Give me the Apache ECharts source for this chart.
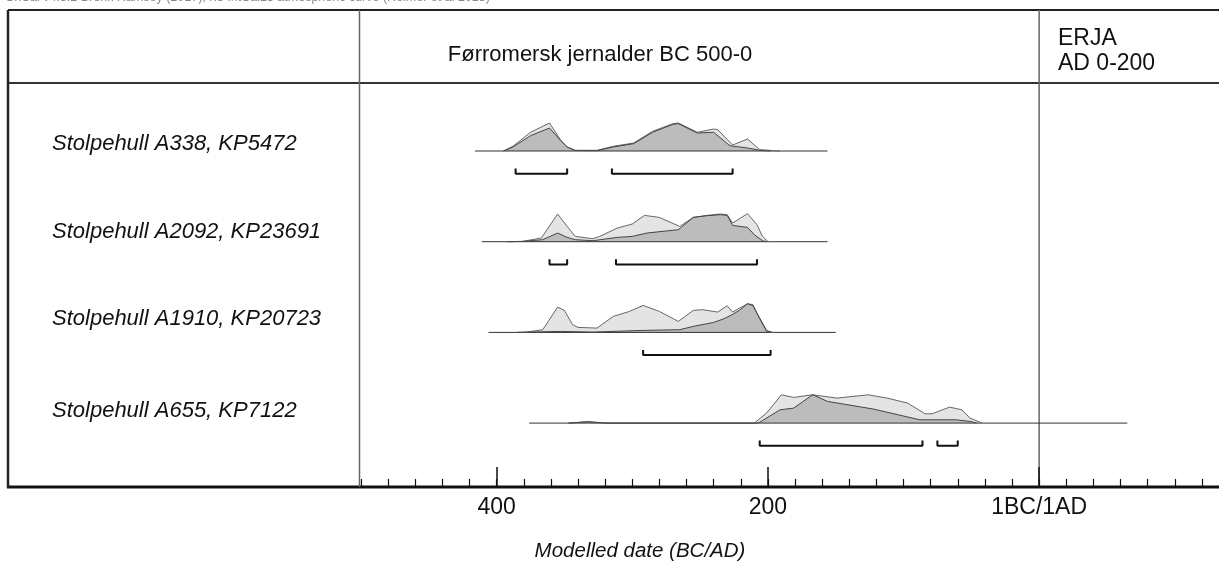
<!DOCTYPE html>
<html>
<head>
<meta charset="utf-8">
<script src="https://cdn.jsdelivr.net/npm/echarts@6/dist/echarts.min.js"></script>
<style>
  html, body { margin: 0; padding: 0; background: #fff; }
  #chart { width: 1219px; height: 565px; }
</style>
</head>
<body>
<div id="chart"></div>
<script>
// Calendar years, BC negative. Densities are relative heights.
const SAMPLES = [
  'Stolpehull A338, KP5472',
  'Stolpehull A2092, KP23691',
  'Stolpehull A1910, KP20723',
  'Stolpehull A655, KP7122',
];

const SPAN_A338 = [-416, -156];
const LIKELIHOOD_A338 = [[-395, 0], [-388, 4.7], [-375, 18.7], [-361, 28], [-353, 11.3], [-348, 4], [-342, 0.7], [-326, 0.7], [-314, 4.7], [-299, 8], [-285, 19.7], [-270, 27.3], [-266, 28], [-252, 18.7], [-240, 22], [-237, 21.3], [-226, 6], [-215, 12], [-206, 1.3], [-191, 0]];
const POSTERIOR_A338 = [[-395, 0], [-388, 4], [-375, 15.3], [-361, 23], [-353, 10.7], [-348, 4], [-342, 0.5], [-326, 0.3], [-314, 4], [-299, 7.3], [-285, 18.7], [-270, 26.7], [-266, 27.3], [-252, 18], [-240, 18.7], [-228, 5.3], [-215, 3], [-206, 0.7], [-198, 0]];
const RANGES_A338 = [[-386, -348], [-315, -226]];

const SPAN_A2092 = [-411, -156];
const LIKELIHOOD_A2092 = [[-392, 0], [-381, 0.3], [-367, 3.7], [-355, 27.7], [-348, 15.3], [-342, 5.3], [-329, 3], [-324, 5.3], [-311, 13.7], [-300, 17.7], [-291, 26.3], [-280, 24.3], [-265, 15.3], [-255, 24.3], [-245, 26.3], [-235, 27.7], [-230, 27], [-226, 18.7], [-215, 28], [-208, 17], [-204, 5.3], [-200, 0.3], [-196, 0]];
const POSTERIOR_A2092 = [[-392, 0], [-381, 0.3], [-366, 2], [-355, 8.7], [-348, 4.3], [-342, 2], [-329, 1], [-311, 4.3], [-300, 5.3], [-289, 8.7], [-266, 12], [-255, 24.3], [-245, 26], [-235, 27], [-230, 26.3], [-226, 16.3], [-215, 14.3], [-210, 7], [-204, 1], [-201, 0]];
const RANGES_A2092 = [[-361, -348], [-312, -208]];

const SPAN_A1910 = [-406, -150];
const LIKELIHOOD_A1910 = [[-385, 0], [-378, 0.3], [-366, 2.7], [-355, 25.3], [-350, 22], [-344, 7.7], [-340, 5], [-326, 4.3], [-314, 16], [-302, 21], [-292, 27], [-280, 21], [-266, 11], [-255, 22], [-248, 22.7], [-237, 20.3], [-230, 26.7], [-226, 20.3], [-215, 28.7], [-211, 27.7], [-207, 16], [-201, 1], [-196, 0]];
const POSTERIOR_A1910 = [[-385, 0], [-353, 1], [-329, 0.3], [-292, 2], [-265, 2.7], [-255, 6], [-240, 10], [-233, 13.3], [-226, 18], [-221, 22], [-215, 28.7], [-211, 26.7], [-206, 14.3], [-201, 2], [-197, 0]];
const RANGES_A1910 = [[-292, -198]];

const SPAN_A655 = [-376, 65];
const LIKELIHOOD_A655 = [[-347, 0], [-333, 1.5], [-319, 0], [-210, 0], [-201, 10], [-190, 28.3], [-181, 25.7], [-167, 28.3], [-149, 25], [-126, 28.3], [-112, 25], [-97, 20], [-84, 9.3], [-79, 9.3], [-66, 16], [-57, 13.3], [-51, 5], [-42, 0]];
const POSTERIOR_A655 = [[-347, 0], [-333, 1.3], [-319, 0], [-207, 0], [-191, 13.3], [-181, 15], [-167, 28.3], [-156, 21.7], [-122, 14], [-88, 3.3], [-61, 3.3], [-51, 1.7], [-46, 0]];
const RANGES_A655 = [[-206, -86], [-75, -60]];

const SPANS = [SPAN_A338, SPAN_A2092, SPAN_A1910, SPAN_A655];
const LIKELIHOODS = [LIKELIHOOD_A338, LIKELIHOOD_A2092, LIKELIHOOD_A1910, LIKELIHOOD_A655];
const POSTERIORS = [POSTERIOR_A338, POSTERIOR_A2092, POSTERIOR_A1910, POSTERIOR_A655];
const RANGES = [RANGES_A338, RANGES_A2092, RANGES_A1910, RANGES_A655];

const TICK_VALUES = [-400, -200, 0];
const TICK_LABELS = ['400', '200', '1BC/1AD'];
const X_MIN = -500;
const X_MAX = 140;

const FONT = "'Liberation Sans', Arial, sans-serif";
const LABEL_Y = [144, 232, 319, 411];

const chart = echarts.init(document.getElementById('chart'));

const plotLeft = 361;
const plotWidth = 868;
const bottomGrid = SAMPLES.length;

const gridBox = (top, height) => ({ left: plotLeft, width: plotWidth, top, height, outerBoundsMode: 'none', containLabel: false });
const grid = SAMPLES.map((_, i) => gridBox(119 + i * 90.7, 58));
grid.push(gridBox(400, 87));

const xAxis = SAMPLES.map((_, i) => ({ type: 'value', gridIndex: i, min: X_MIN, max: X_MAX, show: false }));
xAxis.push({
  type: 'value',
  gridIndex: bottomGrid,
  position: 'bottom',
  min: X_MIN,
  max: X_MAX,
  axisLine: { show: false },
  splitLine: { show: false },
  axisTick: { show: true, inside: true, length: 20, customValues: TICK_VALUES, lineStyle: { color: '#111', width: 1.5 } },
  axisLabel: {
    customValues: TICK_VALUES,
    formatter: (v) => TICK_LABELS[TICK_VALUES.indexOf(v)],
    fontSize: 23,
    fontFamily: FONT,
    color: '#111',
    margin: 9,
  },
});
// minor ticks every 20 years
xAxis.push({
  type: 'value',
  gridIndex: bottomGrid,
  position: 'bottom',
  offset: 0,
  min: X_MIN,
  max: X_MAX,
  interval: 20,
  axisLine: { show: false },
  splitLine: { show: false },
  axisLabel: { show: false },
  axisTick: { show: true, inside: true, length: 8, lineStyle: { color: '#111', width: 1.2 } },
});

const yAxis = SAMPLES.map((_, i) => ({ type: 'value', gridIndex: i, min: -26, max: 32, show: false }));
yAxis.push({ type: 'value', gridIndex: bottomGrid, show: false });

const series = [];
SAMPLES.forEach((name, i) => {
  const base = { type: 'line', xAxisIndex: i, yAxisIndex: i, symbol: 'none', silent: true, animation: false };
  series.push({ ...base, name: name + ' axis', data: SPANS[i].map((x) => [x, 0]), lineStyle: { color: '#333', width: 1 } });
  series.push({
    ...base,
    name: name + ' unmodelled',
    data: LIKELIHOODS[i],
    lineStyle: { color: '#666', width: 1 },
    areaStyle: { color: '#e4e4e4', opacity: 1 },
  });
  series.push({
    ...base,
    name: name + ' modelled',
    data: POSTERIORS[i],
    lineStyle: { color: '#444', width: 1 },
    areaStyle: { color: '#bcbcbc', opacity: 1 },
  });
  RANGES[i].forEach(([a, b]) => {
    series.push({
      ...base,
      name: name + ' 95.4%',
      data: [[a, -17.5], [a, -22.7], [b, -22.7], [b, -17.5]],
      lineStyle: { color: '#111', width: 2 },
    });
  });
});

chart.setOption({
  animation: false,
  grid,
  xAxis,
  yAxis,
  series,
});

const zeroX = chart.convertToPixel({ xAxisIndex: bottomGrid }, 0);
const hline = (x1, y, x2, width, color) => ({ type: 'line', shape: { x1, y1: y, x2, y2: y }, style: { stroke: color, lineWidth: width } });
const vline = (x, y1, y2, width, color) => ({ type: 'line', shape: { x1: x, y1, x2: x, y2 }, style: { stroke: color, lineWidth: width } });
const text = (x, y, str, size, opts = {}) => ({
  type: 'text',
  x,
  y,
  style: { text: str, fontSize: size, fontFamily: FONT, fill: '#111', verticalAlign: 'middle', ...opts },
});

chart.setOption({
  graphic: [
    text(5, -2, 'OxCal v4.3.2 Bronk Ramsey (2017); r:5 IntCal13 atmospheric curve (Reimer et al 2013)', 12.5, { fill: '#888' }),
    hline(8, 10, 1219, 2, '#222'),
    hline(8, 83, 1219, 2, '#333'),
    hline(7, 487, 1219, 3, '#111'),
    vline(8, 10, 488, 2.5, '#222'),
    vline(359.5, 10, 487, 1.5, '#666'),
    vline(zeroX, 10, 487, 1.5, '#666'),
    text(600, 55, 'Førromersk jernalder BC 500-0', 22, { align: 'center' }),
    text(1058, 39, 'ERJA', 23),
    text(1058, 64, 'AD 0-200', 23),
    ...SAMPLES.map((s, i) => text(52, LABEL_Y[i], s, 22, { fontStyle: 'italic' })),
    text(640, 551, 'Modelled date (BC/AD)', 20.5, { align: 'center', fontStyle: 'italic' }),
  ],
});
</script>
</body>
</html>
